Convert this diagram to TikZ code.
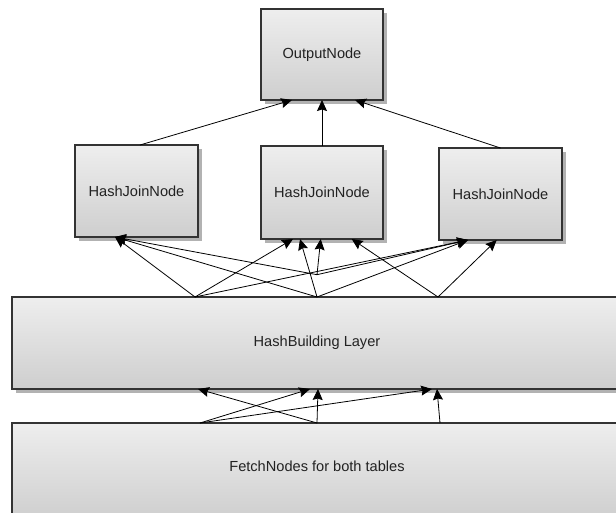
\documentclass[tikz,border=0pt]{standalone}
\usepackage{fontspec}
\setmainfont{Liberation Sans}
\usetikzlibrary{arrows.meta,shadows}
\definecolor{boxtop}{RGB}{238,238,238}
\definecolor{boxbot}{RGB}{206,206,206}
\definecolor{boxline}{RGB}{51,51,51}
\definecolor{shadowgray}{RGB}{178,178,178}
\definecolor{txt}{RGB}{34,34,34}
\begin{document}
\begin{tikzpicture}[x=1pt,y=-1pt,
  box/.style={draw=boxline, line width=1.6pt, rectangle, inner sep=0pt, outer sep=0pt,
    top color=boxtop, bottom color=boxbot,
    font=\fontsize{14.6}{17}\selectfont, text=txt,
    drop shadow={shadow xshift=4pt, shadow yshift=-4pt, fill=shadowgray, opacity=1}},
  arr/.style={-{Stealth[length=11pt,width=10pt,inset=1.5pt]}, line width=0.8pt, black}]
\useasboundingbox (0,0) rectangle (616,513);
\fill[white] (0,0) rectangle (616,513);

\node[box, minimum width=122pt, minimum height=91pt] (out) at (322,54.5) {OutputNode};
\node[box, minimum width=123pt, minimum height=92pt] (L) at (136.5,191) {HashJoinNode};
\node[box, minimum width=122pt, minimum height=93pt] (M) at (322,192.5) {HashJoinNode};
\node[box, minimum width=123pt, minimum height=92pt] (R) at (500.5,194) {HashJoinNode};
\node[box, minimum width=610pt, minimum height=92pt] (HB) at (317,343) {HashBuilding Layer};
\node[box, minimum width=610pt, minimum height=97pt] (FN) at (317,471.5) {\raisebox{9.6pt}{FetchNodes for both tables}};

% to OutputNode
\draw[arr] ([xshift=3.5pt]L.north) -- ([xshift=-30pt]out.south);
\draw[arr] (M.north) -- (out.south);
\draw[arr] (R.north) -- ([xshift=33pt]out.south);

% HashBuilding -> HashJoin
\coordinate (J) at ([yshift=22.3pt]HB.north);
\draw[arr] ([xshift=-122pt]HB.north) -- ([xshift=-21.5pt]L.south);
\draw[arr] ([xshift=-122pt]HB.north) -- ([xshift=-29pt]M.south);
\draw[arr] ([xshift=-122pt]HB.north) -- ([xshift=-32.5pt]R.south);
\draw[arr] (HB.north) -- ([xshift=-21.5pt]L.south);
\draw[arr] (HB.north) -- ([xshift=-22pt]M.south);
\draw[arr] (HB.north) -- ([xshift=-32.5pt]R.south);
\draw[arr] (J) -- ([xshift=-21.5pt]L.south);
\draw[arr] (J) -- ([xshift=-1.3pt]M.south);
\draw[arr] (J) -- ([xshift=-32.5pt]R.south);
\draw[arr] ([xshift=121pt]HB.north) -- ([xshift=29.7pt]M.south);
\draw[arr] ([xshift=121pt]HB.north) -- ([xshift=-3.8pt]R.south);

% FetchNodes -> HashBuilding
\draw[arr] (FN.north) -- ([xshift=-119pt]HB.south);
\draw[arr] ([xshift=-117pt]FN.north) -- ([xshift=-7pt]HB.south);
\draw[arr] (FN.north) -- ([xshift=1pt]HB.south);
\draw[arr] ([xshift=-117pt]FN.north) -- ([xshift=115pt]HB.south);
\draw[arr] ([xshift=123pt]FN.north) -- ([xshift=120pt]HB.south);
\end{tikzpicture}
\end{document}
